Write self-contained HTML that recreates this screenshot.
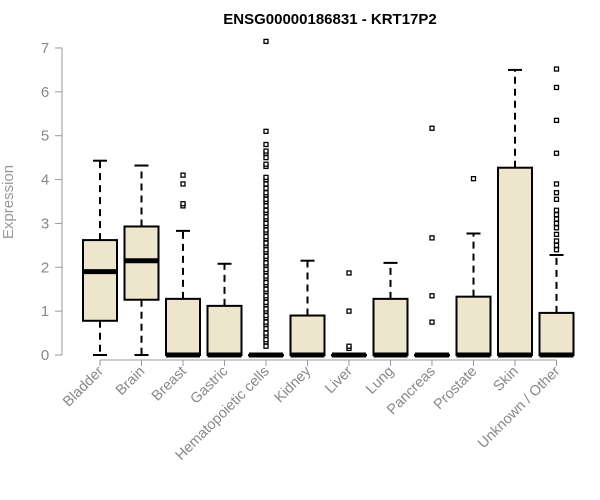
<!DOCTYPE html>
<html><head><meta charset="utf-8"><style>body{margin:0;background:#fff}svg{display:block;font-family:"Liberation Sans",Arial,sans-serif}</style></head>
<body>
<svg id="c" width="600" height="500">
<text x="330" y="24" text-anchor="middle" font-size="15" font-weight="bold">ENSG00000186831 - KRT17P2</text>
<text transform="translate(13,202) rotate(-90)" text-anchor="middle" font-size="15" fill="#999">Expression</text>
</svg>
<script>
const categories=["Bladder","Brain","Breast","Gastric","Hematopoietic cells","Kidney","Liver","Lung","Pancreas","Prostate","Skin","Unknown / Other"];
const lowWhisker=[0,0,0,0,0,0,0,0,0,0,0,0];
const q1=[0.78,1.26,0,0,0,0,0,0,0,0,0,0];
const medians=[1.9,2.15,0,0,0,0,0,0,0,0,0,0];
const q3=[2.62,2.93,1.28,1.12,0,0.9,0,1.28,0,1.33,4.27,0.96];
const highWhisker=[4.43,4.32,2.83,2.08,0,2.15,0,2.1,0,2.77,6.5,2.28];
const outliers=[[],[],[3.4,3.45,3.9,4.1],[],
[0.2,0.3,0.35,0.45,0.5,0.6,0.7,0.75,0.85,0.9,1.0,1.05,1.15,1.2,1.3,1.35,1.45,1.5,1.6,1.65,1.75,1.8,1.9,1.95,2.05,2.1,2.2,2.25,2.35,2.4,2.5,2.55,2.65,2.7,2.8,2.85,2.95,3.0,3.1,3.15,3.25,3.3,3.4,3.5,3.55,3.65,3.7,3.8,3.9,4.0,4.05,4.3,4.35,4.5,4.6,4.65,4.8,5.1,7.15],
[],[0.15,0.2,1.0,1.87],[],[0.75,1.35,2.67,5.17],[4.02],[],
[2.4,2.5,2.6,2.75,2.9,3.0,3.1,3.2,3.3,3.55,3.7,3.9,4.6,5.35,6.1,6.52]];
const yTicks=[0,1,2,3,4,5,6,7];
const svg=document.getElementById('c');const NS="http://www.w3.org/2000/svg";
const y=v=>355-v*43.86;const x=i=>100+i*41.5;
function mk(t,a,p){const e=document.createElementNS(NS,t);for(const k in a)e.setAttribute(k,a[k]);(p||svg).appendChild(e);return e;}
let ax=mk('line',{x1:62,x2:62,y1:y(0),y2:y(7),stroke:'#999'});


yTicks.forEach(t=>{mk('line',{x1:55,x2:62,y1:y(t),y2:y(t),stroke:'#999'});
const tx=mk('text',{x:45,y:y(t)+5,'text-anchor':'middle','font-size':15,fill:'#888'});tx.textContent=t;

});
let xa=mk('line',{x1:x(0),x2:x(11),y1:360,y2:360,stroke:'#999'});


categories.forEach((c,i)=>{const cx=x(i);
mk('line',{x1:cx,x2:cx,y1:360,y2:366,stroke:'#999'});
const t=mk('text',{transform:`translate(${cx+4},${372}) rotate(-45)`,'text-anchor':'end','font-size':14.5,fill:'#888'});t.textContent=c;


const g=mk('g',{});


mk('line',{x1:cx,x2:cx,y1:y(q3[i]),y2:y(highWhisker[i]),stroke:'#000','stroke-width':2,'stroke-dasharray':'7,5'},g);
mk('line',{x1:cx-7,x2:cx+7,y1:y(highWhisker[i]),y2:y(highWhisker[i]),stroke:'#000','stroke-width':2},g);
mk('line',{x1:cx,x2:cx,y1:y(q1[i]),y2:y(lowWhisker[i]),stroke:'#000','stroke-width':2,'stroke-dasharray':'7,5'},g);
mk('line',{x1:cx-7,x2:cx+7,y1:y(lowWhisker[i]),y2:y(lowWhisker[i]),stroke:'#000','stroke-width':2},g);
mk('rect',{x:cx-17,y:y(q3[i]),width:34,height:Math.max(y(q1[i])-y(q3[i]),0.5),fill:'#ede6cc',stroke:'#000','stroke-width':2},g);
mk('line',{x1:cx-17,x2:cx+17,y1:y(medians[i]),y2:y(medians[i]),stroke:'#000','stroke-width':5},g);
outliers[i].forEach(o=>{const r=mk('rect',{x:cx-2,y:y(o)-2,width:4,height:4,fill:'#fff',stroke:'#000','stroke-width':1.3},g);

});
});
</script>
</body></html>
